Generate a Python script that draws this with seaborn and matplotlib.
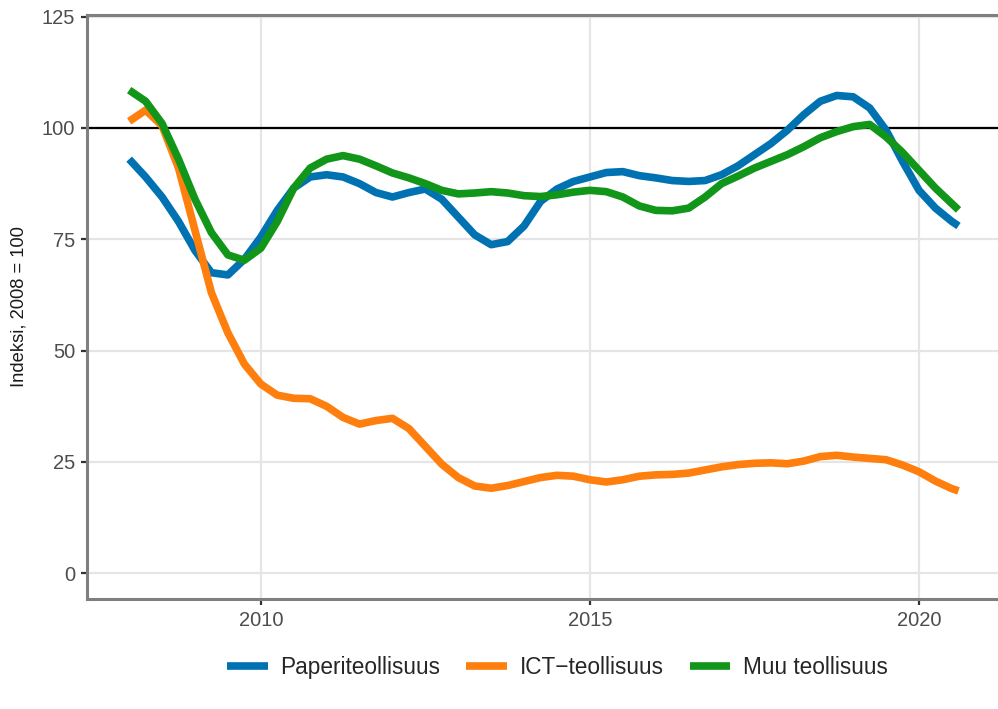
import numpy as np
import pandas as pd
import seaborn as sns
import matplotlib.pyplot as plt

# aikapisteet (vuosineljännekset 2008-2020 + viimeinen havainto)
vuodet = list(np.arange(2008, 2020.51, 0.25)) + [2020.6]

paperi = [93, 89, 84.5, 79, 72.5, 67.5, 67, 70.5, 75.5, 81.5, 86.5, 89, 89.5, 89, 87.5, 85.5,
          84.5, 85.5, 86.3, 84, 80, 76, 73.8, 74.5, 78, 83.5, 86.3, 88, 89, 90, 90.2, 89.3,
          88.8, 88.2, 88, 88.2, 89.5, 91.5, 94, 96.5, 99.5, 103, 106, 107.3, 107, 104.5, 99.5,
          92.5, 86, 82, 79, 78]
ict = [101.5, 104, 100.5, 91, 77, 63, 54, 47, 42.5, 40, 39.3, 39.2, 37.5, 35, 33.5, 34.3,
       34.8, 32.5, 28.5, 24.5, 21.5, 19.6, 19.1, 19.7, 20.6, 21.5, 22, 21.8, 21, 20.5, 21, 21.8,
       22.1, 22.2, 22.5, 23.2, 23.9, 24.4, 24.7, 24.8, 24.6, 25.2, 26.2, 26.5, 26.1, 25.8, 25.5,
       24.3, 22.8, 20.7, 19, 18.5]
muu = [108.5, 106, 101, 93, 84, 76.5, 71.5, 70.3, 73, 79, 86.5, 91, 93, 93.8, 93, 91.5,
       89.9, 88.8, 87.5, 86, 85.2, 85.4, 85.7, 85.4, 84.8, 84.6, 85, 85.6, 86, 85.7, 84.5, 82.5,
       81.5, 81.4, 82, 84.5, 87.5, 89.2, 91, 92.5, 94, 95.8, 97.8, 99.2, 100.3, 100.8, 98, 94.5,
       90.5, 86.5, 83, 81.6]

sarjat = ["Paperiteollisuus", "ICT\u2212teollisuus", "Muu teollisuus"]
varit = ["#0072B2", "#FF7F0E", "#11961A"]

df = pd.DataFrame({
    "aika": vuodet * 3,
    "indeksi": paperi + ict + muu,
    "sarja": [sarjat[0]] * len(vuodet) + [sarjat[1]] * len(vuodet) + [sarjat[2]] * len(vuodet),
})

sns.set_theme(style="whitegrid")
plt.rcParams['font.family'] = ['Liberation Sans', 'DejaVu Sans']

fig = plt.figure(figsize=(9.98, 7.09), dpi=100)
ax = fig.add_axes([0.0872, 0.155, 0.9128, 0.824])

sns.lineplot(data=df, x="aika", y="indeksi", hue="sarja", hue_order=sarjat,
             palette=dict(zip(sarjat, varit)), linewidth=5.5, ax=ax, legend=False)
for ln in ax.lines:
    ln.set_solid_joinstyle("round")
    ln.set_solid_capstyle("butt")
ax.axhline(100, color="black", linewidth=1.6, zorder=1)

ax.set_xlim(2007.36, 2021.2)
ax.set_ylim(-5.8, 125.4)
ax.set_xticks([2010, 2015, 2020])
ax.set_yticks([0, 25, 50, 75, 100, 125])
ax.grid(True, color="#e5e5e5", linewidth=1.6)
ax.set_axisbelow(True)

for s in ["left", "top", "bottom"]:
    ax.spines[s].set_color("#7f7f7f")
    ax.spines[s].set_linewidth(2.2)
ax.spines["right"].set_visible(False)
ax.tick_params(axis="both", labelcolor="#4d4d4d", labelsize=14.5, length=4.5, width=1.6,
               color="#333333", direction="out", left=True, bottom=True, pad=4)

ax.set_xlabel("")
ax.set_ylabel("Indeksi, 2008 = 100", fontsize=13.2, color="#1a1a1a", labelpad=10)

handles = [plt.Line2D([], [], color=c, linewidth=5.5, solid_capstyle="butt") for c in varit]
fig.legend(handles, sarjat, loc="center", bbox_to_anchor=(0.5586, 0.058), ncol=3,
           frameon=False, fontsize=16.3, handlelength=1.8, columnspacing=1.15,
           handletextpad=0.55)

fig.savefig("out.png", dpi=100)
